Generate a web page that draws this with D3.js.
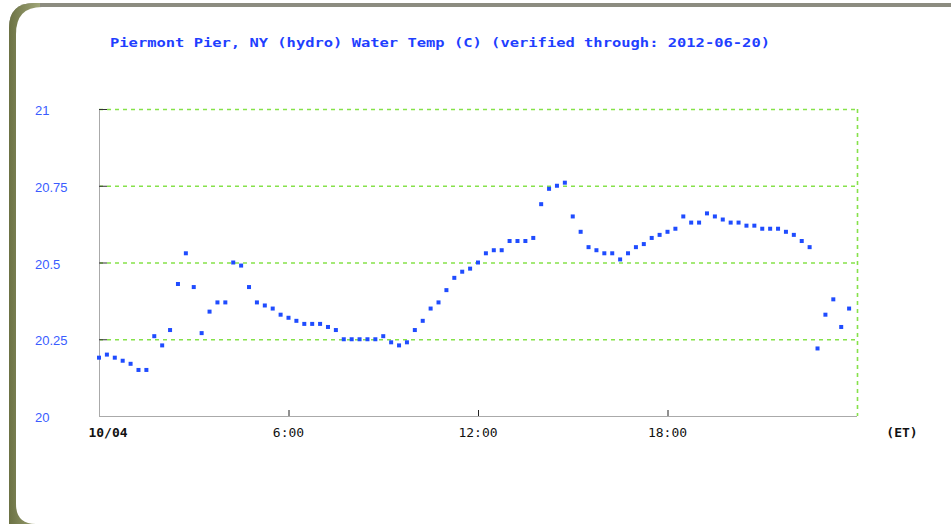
<!DOCTYPE html>
<html>
<head>
<meta charset="utf-8">
<script src="https://cdn.jsdelivr.net/npm/d3@7"></script>
<style>
  body { margin: 0; background: #fff; }
  svg { display: block; }
</style>
</head>
<body>
<svg id="chart" width="951" height="524"></svg>
<script>
// water temp readings, every 15 min starting 10/04 00:00 (hours)
var hours = d3.range(96).map(function(i) { return i * 0.25 });
var temps = [
  20.19, 20.20, 20.19, 20.18, 20.17, 20.15, 20.15, 20.26, 20.23, 20.28,
  20.43, 20.53, 20.42, 20.27, 20.34, 20.37, 20.37, 20.50, 20.49, 20.42,
  20.37, 20.36, 20.35, 20.33, 20.32, 20.31, 20.30, 20.30, 20.30, 20.29,
  20.28, 20.25, 20.25, 20.25, 20.25, 20.25, 20.26, 20.24, 20.23, 20.24,
  20.28, 20.31, 20.35, 20.37, 20.41, 20.45, 20.47, 20.48, 20.50, 20.53,
  20.54, 20.54, 20.57, 20.57, 20.57, 20.58, 20.69, 20.74, 20.75, 20.76,
  20.65, 20.60, 20.55, 20.54, 20.53, 20.53, 20.51, 20.53, 20.55, 20.56,
  20.58, 20.59, 20.60, 20.61, 20.65, 20.63, 20.63, 20.66, 20.65, 20.64,
  20.63, 20.63, 20.62, 20.62, 20.61, 20.61, 20.61, 20.60, 20.59, 20.57,
  20.55, 20.22, 20.33, 20.38, 20.29, 20.35
];
var yTicks = [20, 20.25, 20.5, 20.75, 21];
var xTicks = [0, 6, 12, 18];
var xTickLabels = ['10/04', '6:00', '12:00', '18:00'];
var title = 'Piermont Pier, NY (hydro) Water Temp (C) (verified through: 2012-06-20)';

var svg = d3.select('#chart');
var defs = svg.append('defs');

// olive frame on the left, grey strip on top
var grad = defs.append('linearGradient').attr('id', 'frameL')
  .attr('x1', 0).attr('x2', 1).attr('y1', 0).attr('y2', 0);
grad.append('stop').attr('offset', '0%').attr('stop-color', '#6c7244');
grad.append('stop').attr('offset', '100%').attr('stop-color', '#a0a678');

svg.append('path')
  .attr('d', 'M9,524 L9,28 Q9,3 34,3 L951,3 L951,9 L40,9 L40,524 Z')
  .attr('fill', '#8c8c80');
svg.append('path')
  .attr('d', 'M9,524 L9,28 Q9,3 34,3 L40,3 L40,524 Z')
  .attr('fill', 'url(#frameL)');
svg.append('path')
  .attr('d', 'M16,504 L16,34 Q16,7 42,7 L951,7 L951,524 L36,524 Q16,524 16,504 Z')
  .attr('fill', '#fff');

var margin = { left: 99, right: 857, top: 109, bottom: 416 };

var x = d3.scaleLinear().domain([0, 24]).range([margin.left, margin.right]);
var y = d3.scaleLinear().domain([20, 21]).range([margin.bottom, margin.top]);

// title
svg.append('text')
  .attr('x', 110).attr('y', 47)
  .attr('textLength', 660)
  .attr('lengthAdjust', 'spacingAndGlyphs')
  .attr('font-family', 'DejaVu Sans Mono, monospace')
  .attr('font-weight', 'bold')
  .attr('font-size', 13)
  .attr('fill', '#1f3fff')
  .text(title);

// green dashed grid
var gridColor = '#86e24a';
svg.append('g').selectAll('line')
  .data(yTicks.filter(function(d) { return d > 20 }))
  .enter().append('line')
    .attr('x1', margin.left).attr('x2', margin.right)
    .attr('y1', function(d) { return y(d) + 0.5 })
    .attr('y2', function(d) { return y(d) + 0.5 })
    .attr('stroke', gridColor)
    .attr('stroke-width', 1.6)
    .attr('stroke-dasharray', '4,4');

svg.append('line')
  .attr('x1', margin.right + 0.5).attr('x2', margin.right + 0.5)
  .attr('y1', margin.top).attr('y2', margin.bottom)
  .attr('stroke', gridColor)
  .attr('stroke-width', 1.6)
  .attr('stroke-dasharray', '4,4');

// axes
svg.append('line')
  .attr('x1', margin.left + 0.5).attr('x2', margin.left + 0.5)
  .attr('y1', margin.top).attr('y2', margin.bottom)
  .attr('stroke', '#aaa');
svg.append('line')
  .attr('x1', margin.left).attr('x2', margin.right)
  .attr('y1', margin.bottom + 0.5).attr('y2', margin.bottom + 0.5)
  .attr('stroke', '#aaa');

// y ticks + labels
svg.append('g').selectAll('line')
  .data(yTicks.filter(function(d) { return d > 20 }))
  .enter().append('line')
    .attr('x1', margin.left).attr('x2', margin.left + 8)
    .attr('y1', function(d) { return y(d) + 0.5 })
    .attr('y2', function(d) { return y(d) + 0.5 })
    .attr('stroke', '#333');

svg.append('g').selectAll('text')
  .data(yTicks)
  .enter().append('text')
    .attr('x', 35)
    .attr('y', function(d) { return y(d) + 6 })
    .attr('font-family', 'Liberation Sans, Arial, sans-serif')
    .attr('font-size', 13)
    .attr('fill', '#3a5cff')
    .text(function(d) { return d });

// x ticks + labels
svg.append('g').selectAll('line')
  .data(xTicks.filter(function(d) { return d > 0 }))
  .enter().append('line')
    .attr('x1', function(d) { return x(d) + 0.5 })
    .attr('x2', function(d) { return x(d) + 0.5 })
    .attr('y1', margin.bottom - 6).attr('y2', margin.bottom)
    .attr('stroke', '#222');

svg.append('g').selectAll('text')
  .data(xTicks)
  .enter().append('text')
    .attr('x', function(d, i) { return i == 0 ? x(d) + 9 : x(d) })
    .attr('y', 437)
    .attr('text-anchor', 'middle')
    .attr('font-family', 'DejaVu Sans Mono, monospace')
    .attr('font-weight', function(d, i) { return i == 0 ? 'bold' : 'normal' })
    .attr('font-size', 13)
    .attr('fill', '#111')
    .text(function(d, i) { return xTickLabels[i] });

svg.append('text')
  .attr('x', 902).attr('y', 437)
  .attr('text-anchor', 'middle')
  .attr('font-family', 'DejaVu Sans Mono, monospace')
  .attr('font-weight', 'bold')
  .attr('font-size', 13)
  .attr('fill', '#111')
  .text('(ET)');

// data points
svg.append('g').selectAll('rect')
  .data(temps)
  .enter().append('rect')
    .attr('x', function(d, i) { return x(hours[i]) - 2 })
    .attr('y', function(d) { return y(d) - 2 })
    .attr('width', 4).attr('height', 4)
    .attr('fill', '#1f4cff');
</script>
</body>
</html>
